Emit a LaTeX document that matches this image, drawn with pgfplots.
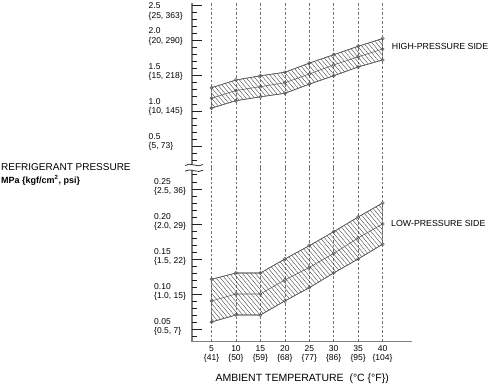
\documentclass[border=0pt]{standalone}
\usepackage{fontspec}
\setmainfont{Liberation Sans}
\usepackage{pgfplots}
\pgfplotsset{compat=1.18}
\usetikzlibrary{patterns.meta}

\newcommand{\yl}[2]{\begin{tabular}[b]{@{}l@{}}#1\\#2\end{tabular}}
\newcommand{\xl}[2]{\begin{tabular}[t]{@{}c@{}}#1\\#2\end{tabular}}

\definecolor{lngray}{gray}{0.35}
\definecolor{gridgray}{gray}{0.45}
\definecolor{axgray}{gray}{0.5}
\definecolor{tickcol}{gray}{0.12}

\pgfplotsset{
  common/.style={
    scale only axis, width=219.9pt, xmin=1, xmax=46,
    anchor=south west,
    axis line style={draw=none},
    ytick pos=left, xtick pos=left,
    tick align=inside,
    major tick length=10pt, minor tick length=5pt,
    xtick={5,10,...,40},
    every x tick/.style={gridgray, dash pattern=on 2.5pt off 2pt, line width=0.5pt},
    every y tick/.style={draw=none},
    xmajorgrids, grid style={dash pattern=on 2.5pt off 2pt, gridgray, line width=0.5pt},
    yticklabel style={font=\fontsize{8.5}{9.2}\selectfont, anchor=base west, inner sep=0pt},
  },
  bandedge/.style={lngray, line width=0.55pt, mark=o, mark size=1.6pt, mark options={solid}},
  hatch/.style={draw=lngray, line width=0.55pt, pattern={Lines[angle=-50,distance=3.3pt,line width=0.35pt]}, pattern color=black!80},
}

\begin{document}
\begin{tikzpicture}

% axis lines and y ticks, drawn first (before any pattern is used)
\draw[axgray, line width=1.5pt] (192pt,43pt) -- (192pt,382pt);
\draw[axgray, line width=1pt] (191.25pt,43pt) -- (412pt,43pt);
% upper scale: 70.24pt per MPa from 203.865pt; lower scale: 699.9pt per MPa from 21.02pt
\foreach \v in {0.3,0.4,...,2.45} {
  \pgfmathsetmacro\yy{203.865+\v*70.24}
  \draw[tickcol, line width=0.7pt] (192pt,\yy pt) -- (197pt,\yy pt);
}
\foreach \v in {0.5,1.0,...,2.55} {
  \pgfmathsetmacro\yy{203.865+\v*70.24}
  \draw[tickcol, line width=0.7pt] (192pt,\yy pt) -- (202pt,\yy pt);
}
\foreach \v in {0.04,0.05,...,0.275} {
  \pgfmathsetmacro\yy{21.02+\v*699.9}
  \draw[tickcol, line width=0.7pt] (192pt,\yy pt) -- (197pt,\yy pt);
}
\foreach \v in {0.05,0.10,...,0.255} {
  \pgfmathsetmacro\yy{21.02+\v*699.9}
  \draw[tickcol, line width=0.7pt] (192pt,\yy pt) -- (202pt,\yy pt);
}

% upper (high pressure) part
\begin{axis}[common,
  at={(192pt,217pt)}, height=165pt, ymin=0.187, ymax=2.536,
  xticklabels={},
  ytick={0.5,1.0,1.5,2.0,2.5},
  yticklabels={{\yl{0.5}{\{5, 73\}}},{\yl{1.0}{\{10, 145\}}},{\yl{1.5}{\{15, 218\}}},{\yl{2.0}{\{20, 290\}}},{\raisebox{-10pt}{\yl{2.5}{\{25, 363\}}}}},
  yticklabel style={xshift=-43.5pt, yshift=-2.5pt},
]
\addplot[hatch] coordinates {(5,1.33)(10,1.44)(15,1.50)(20,1.55)(25,1.68)(30,1.80)(35,1.92)(40,2.03)(40,1.725)(35,1.625)(30,1.50)(25,1.38)(20,1.25)(15,1.20)(10,1.145)(5,1.04)} -- cycle;
\addplot[bandedge] coordinates {(5,1.33)(10,1.44)(15,1.50)(20,1.55)(25,1.68)(30,1.80)(35,1.92)(40,2.03)};
\addplot[bandedge] coordinates {(5,1.04)(10,1.145)(15,1.20)(20,1.25)(25,1.38)(30,1.50)(35,1.625)(40,1.725)};
\addplot[bandedge] coordinates {(5,1.18)(10,1.29)(15,1.345)(20,1.40)(25,1.525)(30,1.655)(35,1.77)(40,1.88)};
\end{axis}

% lower (low pressure) part
\begin{axis}[common,
  at={(192pt,43pt)}, height=174pt, ymin=0.0314, ymax=0.28,
  xticklabels={{\xl{5}{\{41\}}},{\xl{10}{\{50\}}},{\xl{15}{\{59\}}},{\xl{20}{\{68\}}},{\xl{25}{\{77\}}},{\xl{30}{\{86\}}},{\xl{35}{\{95\}}},{\xl{40}{\{104\}}}},
  xticklabel style={font=\fontsize{8.5}{9.2}\selectfont, anchor=north, inner sep=0pt, yshift=-2.7pt},
  ytick={0.05,0.10,0.15,0.20,0.25},
  yticklabels={{\yl{0.05}{\{0.5, 7\}}},{\yl{0.10}{\{1.0, 15\}}},{\yl{0.15}{\{1.5, 22\}}},{\yl{0.20}{\{2.0, 29\}}},{\yl{0.25}{\{2.5, 36\}}}},
  yticklabel style={xshift=-38pt, yshift=-4.5pt},
]
\addplot[hatch] coordinates {(5,0.121)(10,0.13)(15,0.13)(20,0.15)(25,0.169)(30,0.189)(35,0.21)(40,0.23)(40,0.171)(35,0.15)(30,0.13)(25,0.109)(20,0.09)(15,0.07)(10,0.07)(5,0.06)} -- cycle;
\addplot[bandedge] coordinates {(5,0.121)(10,0.13)(15,0.13)(20,0.15)(25,0.169)(30,0.189)(35,0.21)(40,0.23)};
\addplot[bandedge] coordinates {(5,0.06)(10,0.07)(15,0.07)(20,0.09)(25,0.109)(30,0.13)(35,0.15)(40,0.171)};
\addplot[bandedge] coordinates {(5,0.09)(10,0.10)(15,0.10)(20,0.12)(25,0.138)(30,0.158)(35,0.18)(40,0.20)};
\end{axis}

% axis break
\fill[white] (189pt,214.5pt) rectangle (195pt,219.8pt);
\draw[black!80, line width=0.8pt] (185pt,219.5pt) .. controls (189.5pt,223.5pt) and (198.5pt,216.5pt) .. (203pt,220.5pt);
\draw[black!80, line width=0.8pt] (185pt,213.8pt) .. controls (189.5pt,217.8pt) and (198.5pt,210.8pt) .. (203pt,214.8pt);

% texts
\node[anchor=base west, inner sep=0pt, font=\fontsize{10}{12}\selectfont] at (1pt,214pt) {REFRIGERANT PRESSURE};
\node[anchor=base west, inner sep=0pt, font=\bfseries\fontsize{9}{11}\selectfont] at (1pt,201.7pt) {MPa \{kgf/cm\textsuperscript{2}, psi\}};
\node[anchor=base west, inner sep=0pt, font=\fontsize{8.8}{10}\selectfont] at (391.7pt,335.7pt) {HIGH-PRESSURE SIDE};
\node[anchor=base west, inner sep=0pt, font=\fontsize{8.8}{10}\selectfont] at (391pt,158.3pt) {LOW-PRESSURE SIDE};
\node[anchor=base, inner sep=0pt, font=\fontsize{10.5}{12}\selectfont] at (302.2pt,3pt) {AMBIENT TEMPERATURE\ \ (°C \{°F\})};

\pgfresetboundingbox
\path[use as bounding box] (0,0) rectangle (490pt,385pt);
\end{tikzpicture}
\end{document}
